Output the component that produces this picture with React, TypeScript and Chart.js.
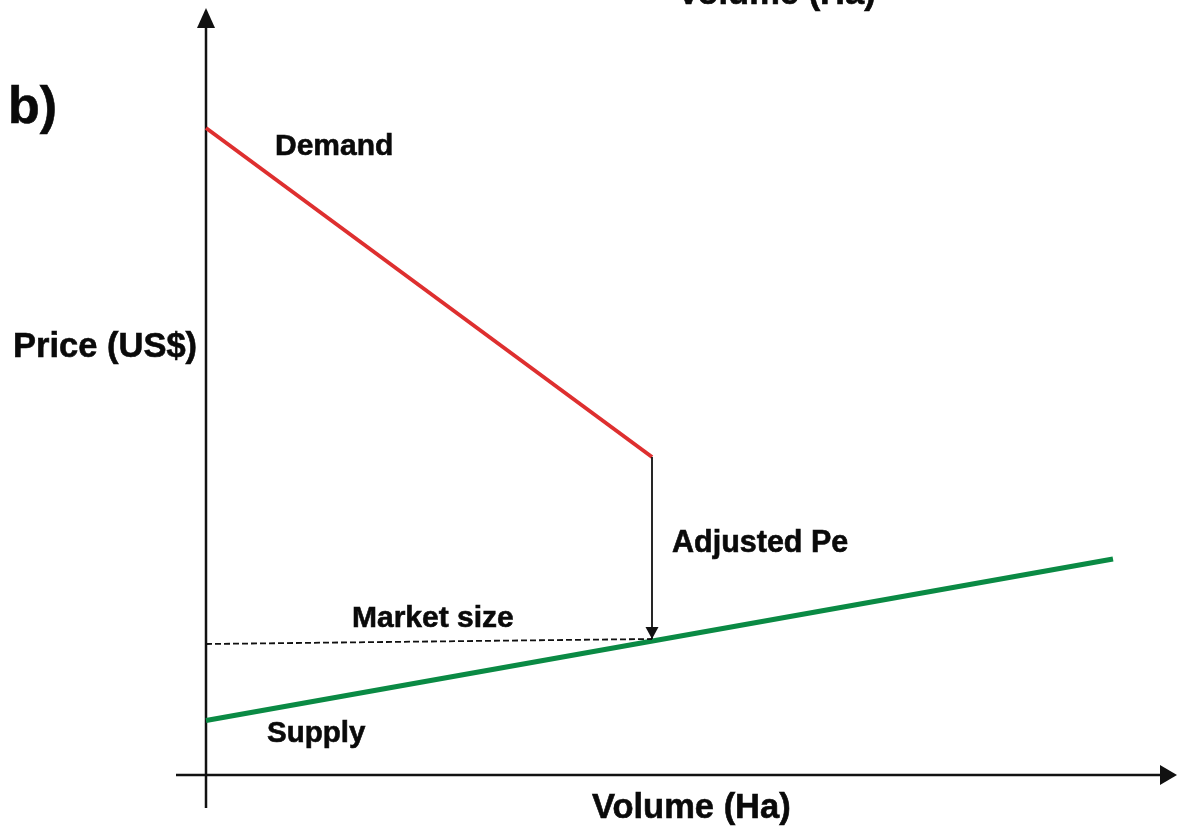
import React, { useEffect, useRef } from "react";
import { Chart, registerables } from "chart.js";

Chart.register(...registerables);

// Data (abstract units: volume on x, price on y)
const demandPoints = [
  { x: 0, y: 64.7 },
  { x: 44.6, y: 31.8 },
];
const supplyPoints = [
  { x: 0, y: 5.45 },
  { x: 90.7, y: 21.6 },
];
const marketSizePoints = [
  { x: 0, y: 13.1 },
  { x: 44.6, y: 13.6 },
];
const adjustedPePoints = [
  { x: 44.6, y: 31.8 },
  { x: 44.6, y: 13.6 },
];

const X_MIN = -20.6;
const X_MAX = 97.1;
const Y_MIN = -5.3;
const Y_MAX = 77.5;

const FONT = 'Arial, "Liberation Sans", Helvetica, sans-serif';

type Label = { text: string; x: number; y: number; size: number };
const labels: Label[] = [
  { text: "b)", x: -19.8, y: 65.2, size: 52 },
  { text: "Demand", x: 6.9, y: 62.0, size: 30 },
  { text: "Price (US$)", x: -19.3, y: 41.8, size: 34.5 },
  { text: "Adjusted Pe", x: 46.6, y: 22.3, size: 30.5 },
  { text: "Market size", x: 14.6, y: 14.8, size: 30 },
  { text: "Supply", x: 6.1, y: 3.3, size: 29.5 },
  { text: "Volume (Ha)", x: 38.6, y: -4.3, size: 34.5 },
  { text: "Volume (Ha)", x: 47.1, y: 77.1, size: 34.5 },
];

function drawArrowHead(
  ctx: CanvasRenderingContext2D,
  tipX: number,
  tipY: number,
  dirX: number,
  dirY: number,
  len: number,
  half: number
) {
  const bx = tipX - dirX * len;
  const by = tipY - dirY * len;
  const px = -dirY;
  const py = dirX;
  ctx.beginPath();
  ctx.moveTo(tipX, tipY);
  ctx.lineTo(bx + px * half, by + py * half);
  ctx.lineTo(bx - px * half, by - py * half);
  ctx.closePath();
  ctx.fill();
}

const overlayPlugin = {
  id: "overlay",
  beforeDatasetsDraw(chart: any) {
    const ctx = chart.ctx as CanvasRenderingContext2D;
    const xs = chart.scales.x;
    const ys = chart.scales.y;
    const X = (v: number) => xs.getPixelForValue(v);
    const Y = (v: number) => ys.getPixelForValue(v);
    ctx.save();
    ctx.strokeStyle = "#111";
    ctx.fillStyle = "#111";
    ctx.lineWidth = 2.5;
    // y axis
    ctx.beginPath();
    ctx.moveTo(X(0), Y(-3.3));
    ctx.lineTo(X(0), Y(76.7) + 15);
    ctx.stroke();
    drawArrowHead(ctx, X(0), Y(76.7), 0, -1, 20, 9);
    // x axis
    ctx.beginPath();
    ctx.moveTo(X(-3.0), Y(0));
    ctx.lineTo(X(97.1) - 12, Y(0));
    ctx.stroke();
    drawArrowHead(ctx, X(97.1), Y(0), 1, 0, 17, 10);
    ctx.restore();
  },
  afterDatasetsDraw(chart: any) {
    const ctx = chart.ctx as CanvasRenderingContext2D;
    const xs = chart.scales.x;
    const ys = chart.scales.y;
    const X = (v: number) => xs.getPixelForValue(v);
    const Y = (v: number) => ys.getPixelForValue(v);
    ctx.save();
    // arrowhead for Adjusted Pe
    const end = adjustedPePoints[adjustedPePoints.length - 1];
    ctx.fillStyle = "#111";
    drawArrowHead(ctx, X(end.x), Y(end.y), 0, 1, 12, 6.5);
    // labels
    ctx.fillStyle = "#0a0a0a";
    ctx.strokeStyle = "#0a0a0a";
    ctx.lineWidth = 0.6;
    ctx.textAlign = "left";
    ctx.textBaseline = "alphabetic";
    for (const l of labels) {
      ctx.font = `bold ${l.size}px ${FONT}`;
      ctx.fillText(l.text, X(l.x), Y(l.y));
      ctx.strokeText(l.text, X(l.x), Y(l.y));
    }
    ctx.restore();
  },
};

export default function App() {
  const ref = useRef<HTMLCanvasElement | null>(null);
  useEffect(() => {
    if (!ref.current) return;
    const chart = new Chart(ref.current, {
      type: "scatter",
      data: {
        datasets: [
          {
            label: "Market size",
            data: marketSizePoints,
            showLine: true,
            borderColor: "#111",
            borderWidth: 1.8,
            borderDash: [6, 3],
            pointRadius: 0,
          },
          {
            label: "Adjusted Pe",
            data: adjustedPePoints,
            showLine: true,
            borderColor: "#111",
            borderWidth: 1.8,
            pointRadius: 0,
          },
          {
            label: "Demand",
            data: demandPoints,
            showLine: true,
            borderColor: "#de2f2f",
            borderWidth: 4,
            pointRadius: 0,
          },
          {
            label: "Supply",
            data: supplyPoints,
            showLine: true,
            borderColor: "#0a8a44",
            borderWidth: 5,
            pointRadius: 0,
          },
        ],
      },
      options: {
        responsive: false,
        animation: false,
        devicePixelRatio: 1,
        layout: { padding: 0 },
        plugins: {
          legend: { display: false },
          tooltip: { enabled: false },
        },
        scales: {
          x: { type: "linear", min: X_MIN, max: X_MAX, display: false },
          y: { type: "linear", min: Y_MIN, max: Y_MAX, display: false },
        },
      },
      plugins: [overlayPlugin],
    });
    return () => chart.destroy();
  }, []);
  return (
    <div style={{ position: "absolute", left: 0, top: 0, width: 1177, height: 828, background: "#fff" }}>
      <canvas ref={ref} width={1177} height={828} style={{ display: "block", width: 1177, height: 828 }} />
    </div>
  );
}
